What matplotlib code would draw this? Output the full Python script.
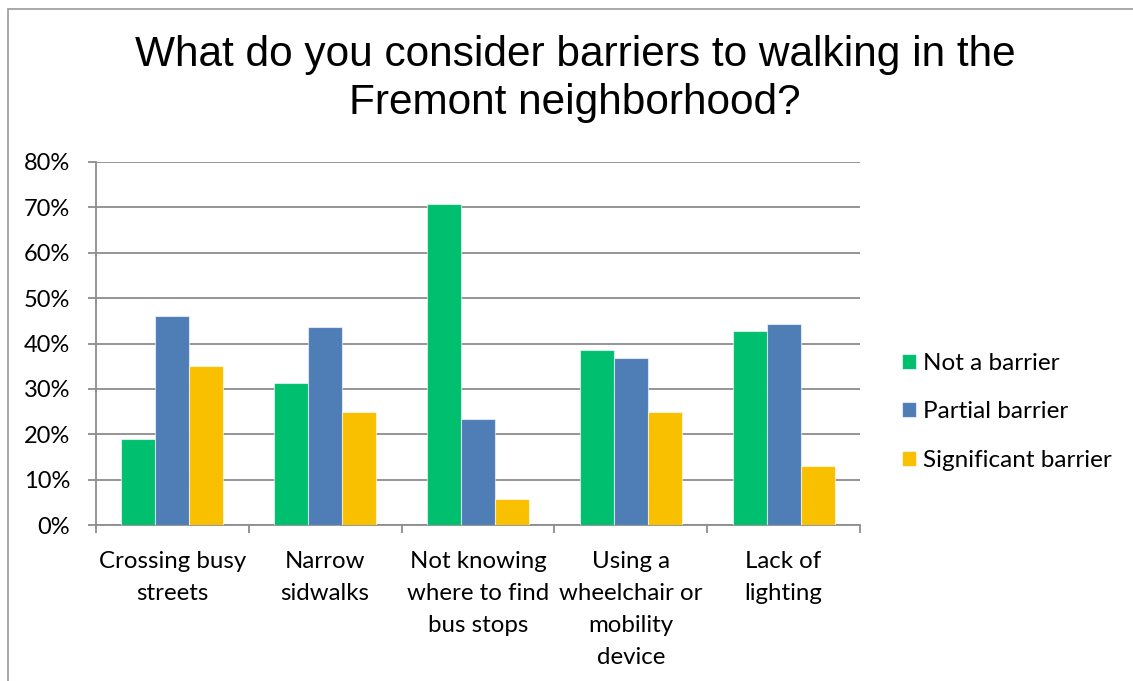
import numpy as np
import matplotlib
matplotlib.use("Agg")
import matplotlib.pyplot as plt
from matplotlib.patches import Rectangle
from matplotlib.ticker import FixedLocator, PercentFormatter

categories = [
    "Crossing busy\nstreets",
    "Narrow\nsidwalks",
    "Not knowing\nwhere to find\nbus stops",
    "Using a\nwheelchair or\nmobility\ndevice",
    "Lack of\nlighting",
]
series_names = ["Not a barrier", "Partial barrier", "Significant barrier"]
not_a_barrier = [19.0, 31.3, 70.8, 38.5, 42.8]
partial_barrier = [46.0, 43.7, 23.3, 36.7, 44.2]
significant_barrier = [35.0, 25.0, 5.8, 24.8, 13.0]
colors = ["#00BF6F", "#4F7DB6", "#F9C000"]

grid_grey = "#8C8C8C"
label_font = ["Lato", "DejaVu Sans"]

fig = plt.figure(figsize=(11.33, 6.81), dpi=100)
ax = fig.add_axes([96 / 1133, 1 - 525 / 681, (860 - 96) / 1133, (525 - 162) / 681])

# chart frame (only top and left edges fall inside the image)
fig.add_artist(Rectangle((8 / 1133, -0.1), 1.2, 1.1 - 9 / 681,
                         transform=fig.transFigure, fill=False,
                         edgecolor="#9A9A9A", linewidth=1.2))

x = np.arange(len(categories))
bw = 1 / 4.5
for i, (vals, name) in enumerate(zip([not_a_barrier, partial_barrier, significant_barrier], series_names)):
    ax.bar(x + (i - 1) * bw, vals, width=bw, color=colors[i], label=name,
           edgecolor=(1, 1, 1, 0.6), linewidth=0.8, zorder=3)

ax.set_xlim(-0.5, len(categories) - 0.5)
ax.set_ylim(0, 80)
ax.set_yticks(np.arange(0, 81, 10))
ax.yaxis.set_major_formatter(PercentFormatter(decimals=0))
ax.grid(axis="y", color=grid_grey, linewidth=1.3, zorder=0)

ax.set_xticks(x)
ax.set_xticklabels(categories, fontfamily=label_font, fontsize=17.3, linespacing=1.66,
                   va="top")
ax.xaxis.set_minor_locator(FixedLocator(np.arange(-0.5, len(categories), 1.0)))
ax.tick_params(axis="x", which="major", length=0, pad=18.5)
ax.tick_params(axis="x", which="minor", length=6, width=1.3, color=grid_grey)
ax.tick_params(axis="y", length=6, width=1.3, color=grid_grey, pad=12.5)
for lbl in ax.get_yticklabels():
    lbl.set_fontfamily(label_font)
    lbl.set_fontsize(17)

for side in ("top", "right"):
    ax.spines[side].set_visible(False)
for side in ("left", "bottom"):
    ax.spines[side].set_color(grid_grey)
    ax.spines[side].set_linewidth(1.3)

fig.text(575 / 1133, 1 - 79 / 681,
         "What do you consider barriers to walking in the\nFremont neighborhood?",
         ha="center", va="center", fontfamily="Liberation Sans", fontsize=30.5,
         linespacing=1.24)

ax.legend(loc="center left", bbox_to_anchor=(902 / 1133, 1 - 412 / 681),
          bbox_transform=fig.transFigure, frameon=False,
          prop={"family": label_font, "size": 17.5},
          borderpad=0, borderaxespad=0,
          handlelength=0.58, handleheight=0.58, handletextpad=0.3,
          labelspacing=1.12)

fig.savefig("out.png", dpi=100)
